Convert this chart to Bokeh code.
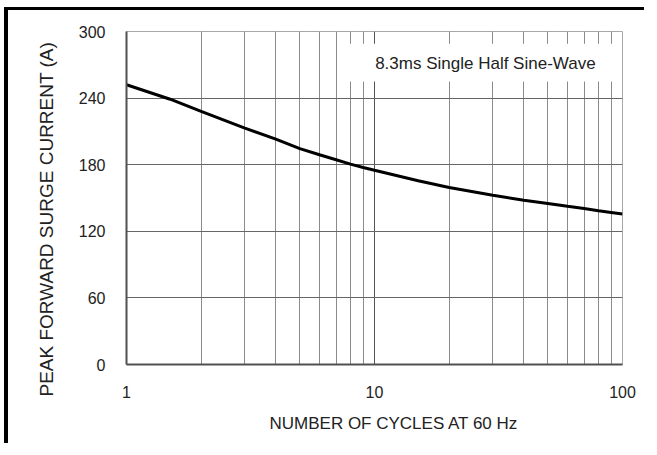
from bokeh.plotting import figure
from bokeh.models import Range1d, FixedTicker, PrintfTickFormatter, Label, BoxAnnotation, Title
from bokeh.embed import file_html
from bokeh.resources import INLINE

# Data
cycles = [1, 1.5, 2, 3, 4, 5, 6, 7, 8, 9, 10, 15, 20, 30, 40, 50, 60, 70, 80, 90, 100]
current = [252, 239, 228, 213, 203, 194.5, 189, 184.5, 180.5, 177.5, 175,
           165.5, 159.5, 152.5, 148, 145, 142.5, 140.5, 138.5, 137, 135.5]
x_ticks = [1, 10, 100]
x_minor = [2, 3, 4, 5, 6, 7, 8, 9, 20, 30, 40, 50, 60, 70, 80, 90]
y_ticks = [0, 60, 120, 180, 240, 300]
x_title = "NUMBER OF CYCLES AT 60 Hz"
y_title = "PEAK FORWARD SURGE CURRENT (A)"
note = "8.3ms Single Half Sine-Wave"

FONT = "Liberation Sans"

p = figure(width=640, height=436, x_axis_type="log",
           x_range=Range1d(1, 100), y_range=Range1d(0, 300),
           output_backend="svg", toolbar_location=None,
           min_border_left=118, min_border_right=26,
           min_border_top=21, min_border_bottom=82)
p.styles = {"border-top": "3px solid black", "border-left": "4px solid black",
            "margin-left": "4px", "margin-top": "7px"}

p.background_fill_color = "white"
p.border_fill_color = "white"
p.outline_line_color = "#a8a8a8"
p.outline_line_width = 1

# axes
for ax in (p.xaxis[0], p.yaxis[0]):
    ax.axis_line_color = "#505050"
    ax.axis_line_width = 2
    ax.major_tick_line_color = None
    ax.minor_tick_line_color = None
    ax.major_tick_out = 0
    ax.major_tick_in = 0
    ax.minor_tick_out = 0
    ax.major_label_text_font = FONT
    ax.major_label_text_font_size = "16px"
    ax.major_label_text_color = "#222222"
    ax.major_label_standoff = 21

p.xaxis.ticker = FixedTicker(ticks=x_ticks, minor_ticks=x_minor)
p.xaxis.formatter = PrintfTickFormatter(format="%d")
p.yaxis.ticker = FixedTicker(ticks=y_ticks)

# grids
p.xgrid.grid_line_color = "#555555"
p.xgrid.grid_line_width = 1
p.xgrid.minor_grid_line_color = "#8a8a8a"
p.xgrid.minor_grid_line_width = 1
p.ygrid.grid_line_color = "#666666"
p.ygrid.grid_line_width = 1

p.line(cycles, current, line_color="black", line_width=3)

# note box
box = BoxAnnotation(left=7.6, right=99.5, bottom=255, top=289,
                    fill_color="white", fill_alpha=1.0, line_alpha=0)
p.add_layout(box)
p.add_layout(Label(x=28.0, y=271.6, text=note, text_align="center",
                   text_baseline="middle", text_font=FONT,
                   text_font_size="17px", text_color="#222222"))

# axis titles
xt = Title(text=x_title, align="left", offset=143, standoff=22,
           text_font=FONT, text_font_size="17px", text_font_style="normal",
           text_color="#222222")
p.add_layout(xt, "below")
yt = Title(text=y_title, align="left", offset=-32, standoff=37,
           text_font=FONT, text_font_size="19px", text_font_style="normal",
           text_color="#222222")
p.add_layout(yt, "left")

open("out.html", "w").write(file_html(p, INLINE))
